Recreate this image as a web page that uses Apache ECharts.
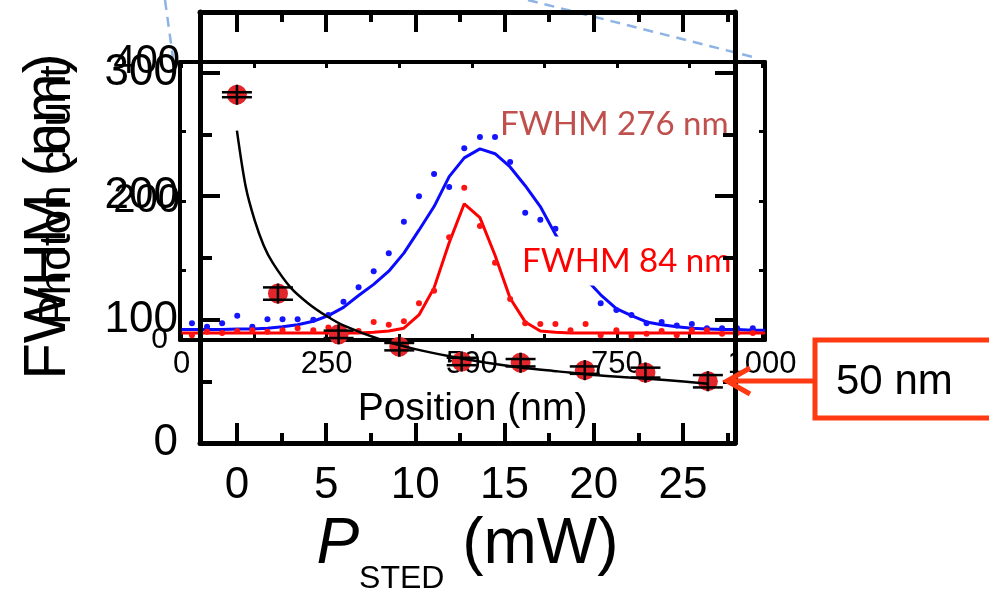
<!DOCTYPE html>
<html>
<head>
<meta charset="utf-8">
<title>STED resolution vs depletion power</title>
<script src="https://cdn.jsdelivr.net/npm/echarts@6/dist/echarts.min.js"></script>
<style>
  html, body { margin: 0; padding: 0; background: #fff; }
  #chart { width: 989px; height: 592px; }
</style>
</head>
<body>
<div id="chart"></div>
<script>
// ---- main plot: FWHM vs STED power ----
const pStedMW = [0, 2.3, 5.7, 9.1, 12.6, 15.9, 19.5, 22.9, 26.4];
const fwhmNm = [282, 121, 88, 78, 66, 65, 59, 57, 50];
const fwhmErrNm = [2, 5, 3, 3, 3, 3, 3, 4, 5];
const fitPowerMW = [0, 0.5, 1, 1.5, 2, 3, 4, 5, 6, 8, 10, 12, 14, 16, 18, 20, 22, 24, 26.4];
const fitFwhmNm = [253, 207, 180, 160, 146, 126, 113, 103, 95, 84, 76, 70, 65, 61, 58, 55, 53, 51, 48];
const powerMajorTicks = [0, 5, 10, 15, 20, 25];
const powerMinorTicks = [2.5, 7.5, 12.5, 17.5, 22.5, 27.5];
const fwhmMajorTicks = [0, 100, 200, 300];
const fwhmMinorTicks = [50, 150, 250];

// ---- inset: line profiles (confocal vs STED) ----
const positionNm = [18, 44, 70, 96, 122, 148, 174, 200, 227, 253, 279, 305, 331, 357, 383, 409, 435, 461, 487,
  514, 540, 566, 592, 618, 644, 670, 696, 722, 749, 775, 801, 827, 853, 879, 905, 931, 957, 984];
const confocalCounts = [24, 19, 24, 35, 19, 30, 30, 30, 29, 36, 55, 76, 99, 125, 170, 207, 239, 220, 276,
  292, 292, 256, 183, 173, 160, 120, 90, 53, 43, 36, 24, 26, 21, 23, 17, 17, 17, 17];
const stedCounts = [7, 12, 10, 13, 14, 12, 14, 17, 14, 18, 12, 13, 26, 22, 27, 53, 71, 148, 219,
  164, 111, 59, 24, 23, 23, 14, 23, 7, 14, 6, 9, 13, 7, 14, 14, 9, 10, 10];
const fitPositionNm = [0, 18, 44, 70, 96, 122, 148, 174, 200, 227, 253, 279, 305, 331, 357, 383, 409, 435, 461, 487,
  514, 540, 566, 592, 618, 644, 670, 696, 722, 749, 775, 801, 827, 853, 879, 905, 931, 957, 984, 1005];
const confocalFit = [15, 15, 15, 15, 16, 16, 17, 19, 22, 27, 35, 47, 64, 80, 99, 125, 158, 192, 235, 262, 275,
  268, 249, 222, 192, 152, 118, 88, 65, 45, 35, 26, 22, 19, 17, 16, 15, 15, 14, 14];
const stedFit = [10, 10, 10, 10, 10, 10, 10, 10, 10, 10, 10, 10, 10, 11, 13, 17, 36, 75, 140, 196, 176,
  122, 60, 26, 13, 11, 10, 10, 10, 10, 10, 10, 10, 10, 10, 10, 10, 10, 10, 10];
const positionLabels = [0, 250, 500, 750, 1000];
const positionTicks = [0, 125, 250, 375, 500, 625, 750, 875, 1000];
const countLabels = [0, 200, 400];
const countTicks = [0, 100, 200, 300, 400];

const FONT = '"Liberation Sans", Arial, Helvetica, sans-serif';
const ORANGE = '#ff3a12';

const zip = (xs, ys) => xs.map((x, i) => [x, ys[i]]);
const plain = v => String(v);

function frameAxis(base) {
  return Object.assign({
    type: 'value',
    splitLine: { show: false },
    axisLine: { show: false, onZero: false },
    axisLabel: { show: false },
    axisTick: { show: false }
  }, base);
}

const MAIN_X = { gridIndex: 0, min: -2.07, max: 27.92, z: 10 };
const MAIN_Y = { gridIndex: 0, min: 0, max: 349, z: 10 };
const INSET_X = { gridIndex: 1, min: -2.6, max: 1005, z: 1 };
const INSET_Y = { gridIndex: 1, min: 0, max: 400, z: 1 };

const mainLine = { show: true, onZero: false, lineStyle: { color: '#000', width: 5 } };
const insetLine = { show: true, onZero: false, lineStyle: { color: '#000', width: 4 } };
const majorTick = vals => ({ show: true, inside: true, length: 20, customValues: vals, lineStyle: { color: '#000', width: 4 } });
const minorTick = (vals, len) => ({ show: true, inside: true, length: len, customValues: vals, lineStyle: { color: '#000', width: 4 } });
const insetTick = vals => ({ show: true, inside: true, length: 6, customValues: vals, lineStyle: { color: '#000', width: 3 } });

const xAxes = [
  frameAxis(Object.assign({}, MAIN_X, {
    position: 'bottom',
    axisLine: mainLine,
    axisTick: majorTick(powerMajorTicks),
    axisLabel: { show: true, customValues: powerMajorTicks, formatter: plain, fontSize: 44, fontFamily: FONT, color: '#000', margin: 21 },
    name: '{i|P}{s|STED}{r| (mW)}',
    nameLocation: 'middle',
    nameGap: 49,
    nameTextStyle: {
      rich: {
        i: { fontSize: 64, fontStyle: 'italic', fontFamily: FONT, color: '#000', lineHeight: 100 },
        s: { fontSize: 32, fontFamily: FONT, color: '#000', lineHeight: 32, verticalAlign: 'bottom' },
        r: { fontSize: 64, fontFamily: FONT, color: '#000', lineHeight: 100 }
      }
    }
  })),
  frameAxis(Object.assign({}, MAIN_X, { position: 'bottom', axisTick: minorTick(powerMinorTicks, 10) })),
  frameAxis(Object.assign({}, MAIN_X, { position: 'top', axisLine: mainLine, axisTick: majorTick(powerMajorTicks) })),
  frameAxis(Object.assign({}, MAIN_X, { position: 'top', axisTick: minorTick(powerMinorTicks, 10) })),
  frameAxis(Object.assign({}, INSET_X, {
    position: 'bottom',
    axisLine: insetLine,
    axisTick: insetTick(positionTicks),
    axisLabel: { show: true, customValues: positionLabels, formatter: plain, fontSize: 31, fontFamily: FONT, color: '#000', margin: 9 },
    name: 'Position (nm)',
    nameLocation: 'middle',
    nameGap: 50,
    nameTextStyle: { fontSize: 39, fontFamily: FONT, color: '#000' }
  })),
  frameAxis(Object.assign({}, INSET_X, { position: 'top', axisLine: insetLine, axisTick: insetTick(positionTicks) }))
];

const yAxes = [
  frameAxis(Object.assign({}, MAIN_Y, {
    position: 'left',
    axisLine: mainLine,
    axisTick: majorTick(fwhmMajorTicks),
    axisLabel: { show: true, customValues: fwhmMajorTicks, formatter: plain, fontSize: 44, fontFamily: FONT, color: '#000', margin: 22, padding: [0, 0, 8, 0] },
    name: 'FWHM (nm)',
    nameLocation: 'middle',
    nameRotate: 90,
    nameGap: 122,
    nameTextStyle: { fontSize: 60, fontFamily: FONT, color: '#000', padding: [0, 0, 0, 22] }
  })),
  frameAxis(Object.assign({}, MAIN_Y, { position: 'left', axisTick: minorTick(fwhmMinorTicks, 12) })),
  frameAxis(Object.assign({}, MAIN_Y, { position: 'right', axisLine: mainLine, axisTick: majorTick(fwhmMajorTicks) })),
  frameAxis(Object.assign({}, MAIN_Y, { position: 'right', axisTick: minorTick(fwhmMinorTicks, 12) })),
  frameAxis(Object.assign({}, INSET_Y, {
    position: 'left',
    axisLine: insetLine,
    axisTick: insetTick(countTicks),
    axisLabel: {
      show: true, customValues: countLabels, fontSize: 40, fontFamily: FONT, color: '#000', margin: 0,
      formatter: v => (v === 0 ? '{s|0}' : String(v)),
      rich: { s: { fontSize: 30, fontFamily: FONT, color: '#000', padding: [0, 12, 0, 0] } }
    },
    name: 'Photon count',
    nameLocation: 'middle',
    nameRotate: 90,
    nameGap: 100,
    nameTextStyle: { fontSize: 44, fontFamily: FONT, color: '#000', padding: [0, 0, 0, 12] }
  })),
  frameAxis(Object.assign({}, INSET_Y, { position: 'right', axisLine: insetLine, axisTick: insetTick(countTicks) }))
];

// error bars: short vertical stroke through the point plus caps at value ± error
function renderErrorBar(params, api) {
  const x = api.value(0), y = api.value(1), e = api.value(2);
  const c = api.coord([x, y]);
  const hi = api.coord([x, y + e]);
  const lo = api.coord([x, y - e]);
  const half = 15;
  const style = { stroke: '#000', lineWidth: 2.5 };
  return {
    type: 'group',
    children: [
      { type: 'line', shape: { x1: c[0], y1: c[1] - 10, x2: c[0], y2: c[1] + 10 }, style },
      { type: 'line', shape: { x1: c[0] - half, y1: hi[1], x2: c[0] + half, y2: hi[1] }, style },
      { type: 'line', shape: { x1: c[0] - half, y1: lo[1], x2: c[0] + half, y2: lo[1] }, style }
    ]
  };
}

const option = {
  animation: false,
  backgroundColor: '#fff',
  grid: [
    { left: 200, top: 12, width: 535, height: 431, containLabel: false, outerBoundsMode: 'none' },
    { left: 180, top: 62, width: 585, height: 278, containLabel: false, outerBoundsMode: 'none' }
  ],
  xAxis: xAxes,
  yAxis: yAxes,
  series: [
    {
      name: 'confocal fit', type: 'line', xAxisIndex: 4, yAxisIndex: 4, z: 2,
      data: zip(fitPositionNm, confocalFit), showSymbol: false,
      lineStyle: { color: '#0a0aff', width: 3 }
    },
    {
      name: 'STED fit', type: 'line', xAxisIndex: 4, yAxisIndex: 4, z: 2,
      data: zip(fitPositionNm, stedFit), showSymbol: false,
      lineStyle: { color: '#ff0000', width: 3 }
    },
    {
      name: 'confocal', type: 'scatter', xAxisIndex: 4, yAxisIndex: 4, z: 3,
      data: zip(positionNm, confocalCounts), symbolSize: 6,
      itemStyle: { color: '#1414ff', opacity: 1 }
    },
    {
      name: 'STED', type: 'scatter', xAxisIndex: 4, yAxisIndex: 4, z: 3,
      data: zip(positionNm, stedCounts), symbolSize: 6,
      itemStyle: { color: '#ff1414', opacity: 1 }
    },
    {
      name: 'FWHM', type: 'scatter', xAxisIndex: 0, yAxisIndex: 0, z: 8,
      data: zip(pStedMW, fwhmNm), symbolSize: 20,
      itemStyle: { color: '#e3262b', opacity: 1 }
    },
    {
      name: 'fit', type: 'line', xAxisIndex: 0, yAxisIndex: 0, z: 9,
      data: zip(fitPowerMW, fitFwhmNm), showSymbol: false, smooth: 0.3,
      lineStyle: { color: '#000', width: 2.5 }
    },
    {
      name: 'error', type: 'custom', xAxisIndex: 0, yAxisIndex: 0, z: 10,
      data: pStedMW.map((p, i) => [p, fwhmNm[i], fwhmErrNm[i]]),
      renderItem: renderErrorBar
    }
  ],
  graphic: [
    { type: 'line', z: 1, shape: { x1: 165, y1: 0, x2: 173, y2: 58 },
      style: { stroke: '#8db4e3', lineWidth: 2.5, lineDash: [10, 7] } },
    { type: 'line', z: 1, shape: { x1: 528, y1: 0, x2: 753, y2: 57 },
      style: { stroke: '#8db4e3', lineWidth: 2.5, lineDash: [10, 7] } },
    { type: 'text', z: 5,
      style: { text: 'FWHM 276 nm', x: 500, y: 124, font: '33px Lato, "Open Sans", sans-serif',
               fill: '#c0504d', verticalAlign: 'middle', align: 'left' } },
    { type: 'text', z: 5,
      style: { text: 'FWHM 84 nm', x: 516, y: 261, font: '33px Lato, "Open Sans", sans-serif',
               fill: '#ff0000', verticalAlign: 'middle', align: 'left',
               backgroundColor: '#fff', padding: [8, 6, 8, 6] } },
    { type: 'rect', z: 20, shape: { x: 815, y: 340, width: 180, height: 78 },
      style: { fill: '#fff', stroke: ORANGE, lineWidth: 5 } },
    { type: 'text', z: 21,
      style: { text: '50 nm', x: 836, y: 382, font: '42px ' + FONT, fill: '#000',
               verticalAlign: 'middle', align: 'left' } },
    { type: 'polyline', z: 20, shape: { points: [[815, 381], [729, 381]] },
      style: { stroke: ORANGE, lineWidth: 5, fill: null } },
    { type: 'polyline', z: 20, shape: { points: [[750, 368], [727, 381], [750, 394]] },
      style: { stroke: ORANGE, lineWidth: 5, fill: null } }
  ]
};

const chart = echarts.init(document.getElementById('chart'), null, { renderer: 'canvas' });
chart.setOption(option);
</script>
</body>
</html>
